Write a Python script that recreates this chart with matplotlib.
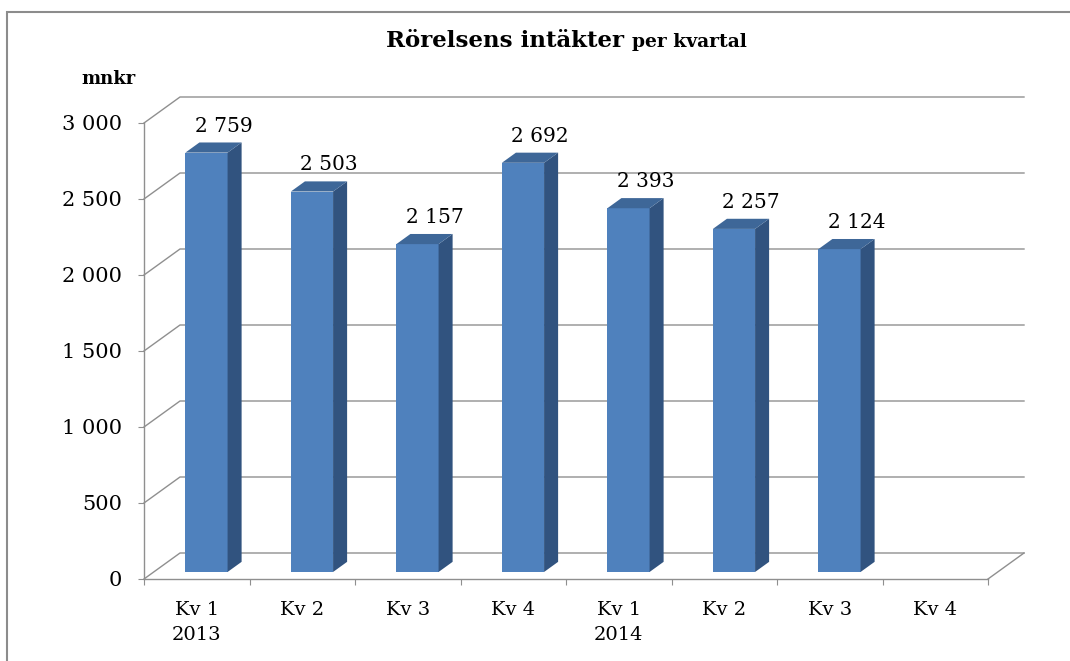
import matplotlib
matplotlib.use("Agg")
import matplotlib.pyplot as plt
from matplotlib.patches import Polygon, Rectangle

# data
quarters = ["Kv 1\n2013", "Kv 2", "Kv 3", "Kv 4", "Kv 1\n2014", "Kv 2", "Kv 3", "Kv 4"]
revenue = [2759, 2503, 2157, 2692, 2393, 2257, 2124]
yticks = [0, 500, 1000, 1500, 2000, 2500, 3000]

W, H = 1070, 661
plt.rcParams['font.family'] = ['DejaVu Serif']

fig = plt.figure(figsize=(W / 100, H / 100), dpi=100)
# front plane of the 3D box, in pixels: x 144..988, y 579 (0) .. 123 (3000)
ax = fig.add_axes([144 / W, 1 - 579 / H, 844 / W, 456 / H])
ax.set_xlim(0, len(quarters))
ax.set_ylim(0, 3000)

# depth of the box in data units (36 px right, 26 px up)
dx = 36 / 105.5
dy = 26 * 3000 / 456
f0, f1 = 0.27, 0.66      # bar front / back position inside the depth
hw = 0.2                 # half bar width (category units)
grid_c = "#8f8f8f"

for s in ["top", "right"]:
    ax.spines[s].set_visible(False)
for s in ["left", "bottom"]:
    ax.spines[s].set_color(grid_c)
    ax.spines[s].set_linewidth(1.0)

n = len(quarters)
# walls: gridlines on left wall + back wall
for v in yticks:
    ax.plot([0, dx, n + dx], [v, v + dy, v + dy], color=grid_c, lw=1.0,
            clip_on=False, zorder=1)
# floor right edge
ax.plot([n, n + dx], [0, dy], color=grid_c, lw=1.0, clip_on=False, zorder=1)

front_c = "#4f81bd"
side_c = "#31537f"
top_c = "#3e6798"

for i, v in enumerate(revenue):
    c = i + 0.5 + f0 * dx
    xl, xr = c - hw, c + hw
    b0 = f0 * dy
    ddx = (f1 - f0) * dx
    ddy = (f1 - f0) * dy
    ax.bar(c, v, width=2 * hw, bottom=b0, color=front_c, zorder=3, clip_on=False)
    ax.add_patch(Polygon([(xr, b0), (xr + ddx, b0 + ddy), (xr + ddx, b0 + ddy + v), (xr, b0 + v)],
                         closed=True, facecolor=side_c, edgecolor="none", zorder=3, clip_on=False))
    ax.add_patch(Polygon([(xl, b0 + v), (xr, b0 + v), (xr + ddx, b0 + ddy + v), (xl + ddx, b0 + ddy + v)],
                         closed=True, facecolor=top_c, edgecolor="none", zorder=3, clip_on=False))
    lab = f"{v:,}".replace(",", " ")
    ax.annotate(lab, (i + 0.5 + f1 * dx + 0.03, v + f1 * dy), xytext=(0, 5), textcoords="offset points",
                ha="center", va="bottom", fontsize=14.5, zorder=4)

ax.set_yticks(yticks)
ax.set_yticklabels([f"{v:,}".replace(",", " ") for v in yticks], fontsize=15)
ax.set_xticks(range(n + 1))
ax.set_xticklabels([])
ax.set_xticks([i + 0.5 for i in range(n)], minor=True)
ax.set_xticklabels(quarters, minor=True, fontsize=14, linespacing=1.5)
ax.tick_params(axis="y", length=4, color=grid_c, pad=12)
ax.tick_params(axis="x", which="major", length=4, color=grid_c)
ax.tick_params(axis="x", which="minor", length=0, pad=16)
ax.patch.set_visible(False)

# title
ty = 1 - 47 / H
fig.text(624 / W, ty, "Rörelsens intäkter", ha="right", va="baseline", fontsize=16.5, fontweight="bold")
fig.text(632 / W, ty, "per kvartal", ha="left", va="baseline", fontsize=13.5, fontweight="bold")
fig.text(108 / W, 1 - 84 / H, "mnkr", ha="center", va="baseline", fontsize=13, fontweight="bold")

# outer chart frame
fig.patches.append(Rectangle((7 / W, -0.05), 1.1, 1 - 12 / H + 0.05, transform=fig.transFigure,
                             fill=False, edgecolor="#8c8c8c", lw=1.5))

fig.savefig("out.png", dpi=100)
